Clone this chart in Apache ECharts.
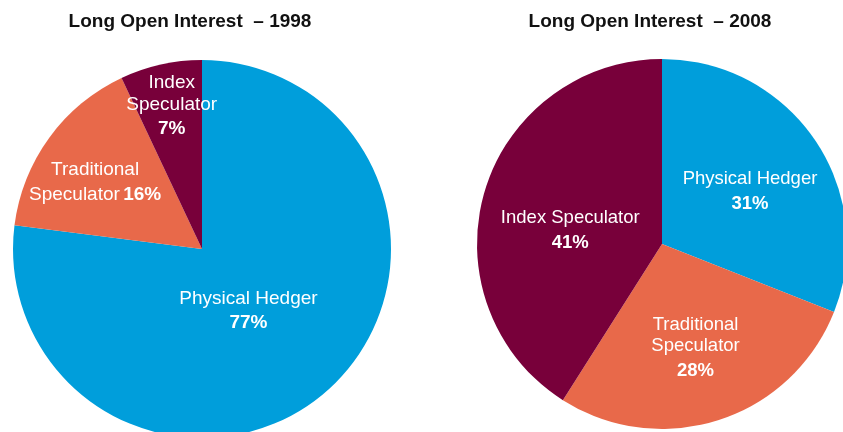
<!DOCTYPE html>
<html>
<head>
<meta charset="utf-8">
<script src="https://cdn.jsdelivr.net/npm/echarts@6/dist/echarts.min.js"></script>
<style>
  html, body { margin: 0; padding: 0; background: #fff; }
  #main { width: 843px; height: 432px; }
</style>
</head>
<body>
<div id="main"></div>
<script>
// data
var names = ['Physical Hedger', 'Traditional Speculator', 'Index Speculator'];
var values1998 = [77, 16, 7];
var values2008 = [31, 28, 41];
var titles = ['Long Open Interest  \u2013 1998', 'Long Open Interest  \u2013 2008'];

// how each label is broken into lines, and whether the % sits on the last line
var lines1998 = [['Physical Hedger'], ['Traditional', 'Speculator'], ['Index', 'Speculator']];
var inline1998 = [false, true, false];
var lines2008 = [['Physical Hedger'], ['Traditional', 'Speculator'], ['Index Speculator']];
var inline2008 = [false, false, false];

var colors = ['#009edb', '#e8694a', '#78003a'];

// nudges from the default inside-label spot
var shift1998 = [[-18, -10], [-28, -8], [-9, -47]];
var shift2008 = [[9, 3], [4, 15], [0, 15]];

var font = '"Liberation Sans", Arial, Helvetica, sans-serif';

function makeLabel(lines, inline) {
	return function(params) {
		var i = params.dataIndex;
		var l = lines[i];
		var pct = '{p|' + params.value + '%}';
		var str = '';
		for (var k = 0; k < l.length; k++) {
			if (k > 0) str += '\n';
			str += '{n|' + l[k] + '}';
		}
		if (inline[i]) return str + ' ' + pct;
		return str + '\n' + pct;
	};
}

function makeData(values) {
	var out = [];
	for (var i = 0; i < values.length; i++) {
		out.push({ name: names[i], value: values[i], itemStyle: { color: colors[i] } });
	}
	return out;
}

function makeLayout(shift) {
	return function(params) {
		var s = shift[params.dataIndex];
		return { dx: s[0], dy: s[1] };
	};
}

function richStyle(size, lh, plh) {
	return {
		n: { fontSize: size, color: '#fff', fontFamily: font, lineHeight: lh },
		p: { fontSize: size, color: '#fff', fontFamily: font, fontWeight: 'bold', lineHeight: plh }
	};
}

var chart = echarts.init(document.getElementById('main'));
var option = {
	backgroundColor: '#fff',
	animation: false,
	title: [{
		text: titles[0],
		left: 190,
		top: 12,
		padding: 0,
		textAlign: 'center',
		textStyle: { fontSize: 19, fontWeight: 'bold', color: '#111', fontFamily: font }
	}, {
		text: titles[1],
		left: 650,
		top: 12,
		padding: 0,
		textAlign: 'center',
		textStyle: { fontSize: 19, fontWeight: 'bold', color: '#111', fontFamily: font }
	}],
	series: [{
		name: '1998',
		type: 'pie',
		center: [202, 249],
		radius: 189,
		startAngle: 90,
		clockwise: true,
		silent: true,
		itemStyle: { borderWidth: 0 },
		label: {
			show: true,
			position: 'inside',
			formatter: makeLabel(lines1998, inline1998),
			rich: richStyle(19, 22, 27)
		},
		labelLine: { show: false },
		labelLayout: makeLayout(shift1998),
		data: makeData(values1998)
	}, {
		name: '2008',
		type: 'pie',
		center: [662, 244],
		radius: 185,
		startAngle: 90,
		clockwise: true,
		silent: true,
		itemStyle: { borderWidth: 0 },
		label: {
			show: true,
			position: 'inside',
			formatter: makeLabel(lines2008, inline2008),
			rich: richStyle(18.5, 21, 28)
		},
		labelLine: { show: false },
		labelLayout: makeLayout(shift2008),
		data: makeData(values2008)
	}]
};
chart.setOption(option);
</script>
</body>
</html>
